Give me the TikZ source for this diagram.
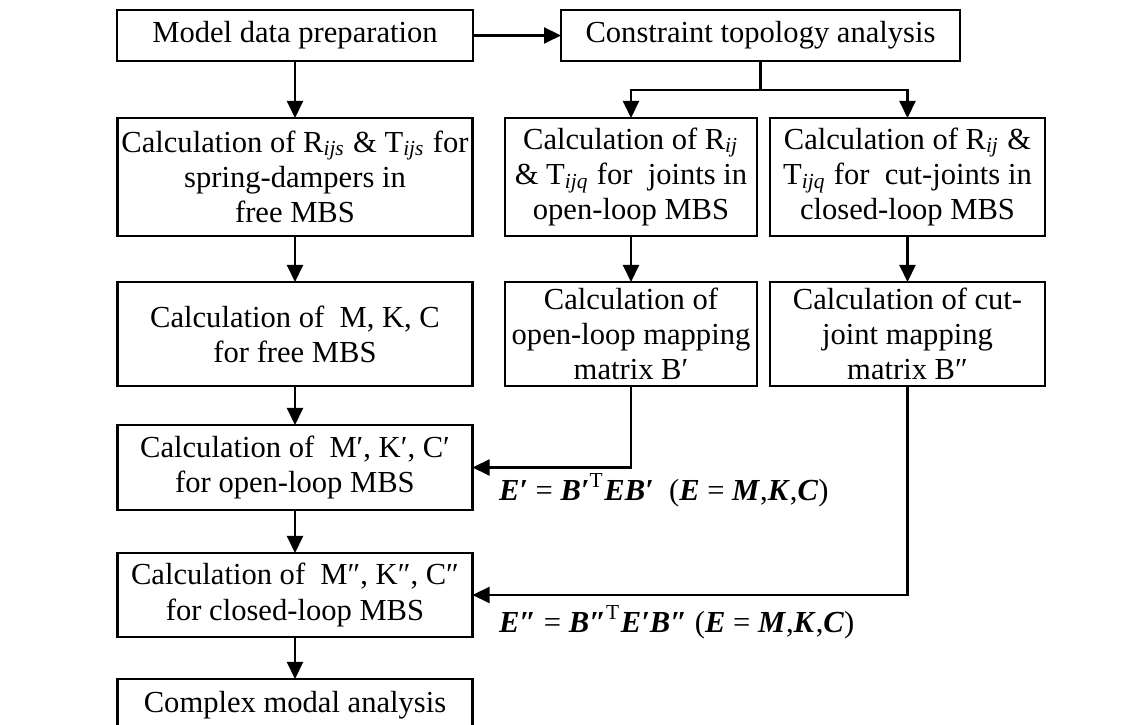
\documentclass[tikz,border=0pt]{standalone}
\usepackage{fontspec}
\setmainfont{Liberation Serif}
\usetikzlibrary{arrows.meta}
\newcommand{\bi}[1]{\textbf{\textit{#1}}}
\newcommand{\isub}[1]{\textsubscript{\textit{#1}}}
\begin{document}
\begin{tikzpicture}[font=\fontsize{8.7}{10}\selectfont, line width=0.6pt,
    >={Triangle[length=0.17cm,width=0.16cm]},
    stage/.style={draw, align=center, inner sep=0pt, outer sep=0pt}]
    \useasboundingbox (0,0) rectangle (11.4,7.25);
    % first row
    \node[stage, minimum width=3.56cm, minimum height=0.51cm] (prep) at (2.95,6.895) {Model data preparation};
    \node[stage, minimum width=3.99cm, minimum height=0.51cm] (topo) at (7.605,6.895) {Constraint topology analysis};
    % R and T
    \node[stage, minimum width=3.55cm, minimum height=1.18cm] (rts) at (2.95,5.48) {Calculation of R\isub{ijs} \& T\isub{ijs} for\\spring-dampers in\\free MBS};
    \node[stage, minimum width=2.52cm, minimum height=1.18cm] (rjo) at (6.31,5.48) {Calculation of R\isub{ij}\\\& T\isub{ijq} for\ \ joints in\\open-loop MBS};
    \node[stage, minimum width=2.75cm, minimum height=1.18cm] (rjc) at (9.075,5.48) {Calculation of R\isub{ij} \&\\T\isub{ijq} for\ \ cut-joints in\\closed-loop MBS};
    % mass, stiffness, damping and mapping matrices
    \node[stage, minimum width=3.55cm, minimum height=1.04cm] (mkc) at (2.95,3.91) {Calculation of\ \ M, K, C\\for free MBS};
    \node[stage, minimum width=2.52cm, minimum height=1.04cm] (mapo) at (6.31,3.91) {Calculation of\\open-loop mapping\\matrix B′};
    \node[stage, minimum width=2.75cm, minimum height=1.04cm] (mapc) at (9.075,3.91) {Calculation of cut-\\joint mapping\\matrix B″};
    \node[stage, minimum width=3.55cm, minimum height=0.85cm] (mkco) at (2.95,2.575) {Calculation of\ \ M′, K′, C′\\for open-loop MBS};
    \node[stage, minimum width=3.55cm, minimum height=0.84cm] (mkcc) at (2.95,1.30) {Calculation of\ \ M″, K″, C″\\for closed-loop MBS};
    \node[stage, minimum width=3.55cm, minimum height=0.52cm] (modal) at (2.95,0.20) {Complex modal analysis};
    % formulas
    \node[anchor=west, inner sep=0pt] (eqo) at (4.98,2.35) {\bi{E′} = \bi{B′}\textsuperscript{T}\bi{EB′}\ \ (\bi{E} = \bi{M},\bi{K},\bi{C})};
    \node[anchor=west, inner sep=0pt] (eqc) at (4.98,1.03) {\bi{E″} = \bi{B″}\textsuperscript{T}\bi{E′B″}\ (\bi{E} = \bi{M},\bi{K},\bi{C})};
    % connectors
    \draw[->] (prep) -- (topo);
    \draw[->] (prep) -- (rts);
    \draw (topo.south) -- ++(0,-0.29) coordinate (fork);
    \draw[->] (fork) -| (rjo.north);
    \draw[->] (fork) -| (rjc.north);
    \draw[->] (rts) -- (mkc);
    \draw[->] (rjo) -- (mapo);
    \draw[->] (rjc) -- (mapc);
    \draw[->] (mkc) -- (mkco);
    \draw[->] (mkco) -- (mkcc);
    \draw[->] (mkcc) -- (modal);
    \draw[->] (mapo.south) |- (mkco.east);
    \draw[->] (mapc.south) |- (mkcc.east);
\end{tikzpicture}
\end{document}
